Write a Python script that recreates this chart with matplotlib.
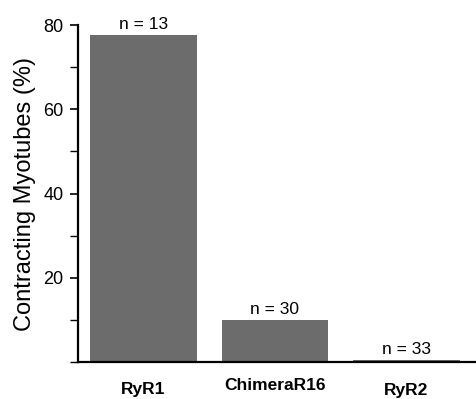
import numpy as np
import matplotlib.pyplot as plt
from matplotlib.ticker import MultipleLocator

# === DATA ===
constructs = ['RyR1', 'ChimeraR16', 'RyR2']
contracting_pct = [77.7, 10.0, 0.5]
n_cells = [13, 30, 33]
label_drop = [28, 24, 29]   # distance of each category label below the axis (px)

plt.rcParams['font.family'] = ['Liberation Sans', 'DejaVu Sans']

fig = plt.figure(figsize=(4.77, 3.99), dpi=100)
ax = fig.add_axes([0.1635, 0.093, 0.8365, 0.844])

x = np.arange(len(constructs))
ax.bar(x, contracting_pct, width=0.81, color='#6c6c6c', edgecolor='none')

for xi, val, n in zip(x, contracting_pct, n_cells):
    ax.annotate(f'n = {n}', (xi, val), xytext=(0, 4.5), textcoords='offset points',
                ha='center', va='baseline', fontsize=12.5)

ax.set_xlim(-0.498, 2.536)
ax.set_ylim(0, 80)
ax.yaxis.set_minor_locator(MultipleLocator(10))
ax.set_yticks([20, 40, 60, 80])
ax.tick_params(axis='y', which='major', length=5.5, width=1.2, labelsize=13, pad=5)
ax.tick_params(axis='y', which='minor', length=5.5, width=1.0)
ax.set_xticks([])
ax.set_ylabel('Contracting Myotubes (%)', fontsize=17, labelpad=5)

for sp in ['top', 'right']:
    ax.spines[sp].set_visible(False)
ax.spines['left'].set_linewidth(1.6)
ax.spines['bottom'].set_linewidth(1.6)

for xi, name, d in zip(x, constructs, label_drop):
    ax.annotate(name, (xi, 0), xycoords=('data', 'axes fraction'),
                xytext=(0, -d * 0.72), textcoords='offset points',
                ha='center', va='center', fontsize=12.5, fontweight='bold')

fig.savefig('out.png', dpi=100)
